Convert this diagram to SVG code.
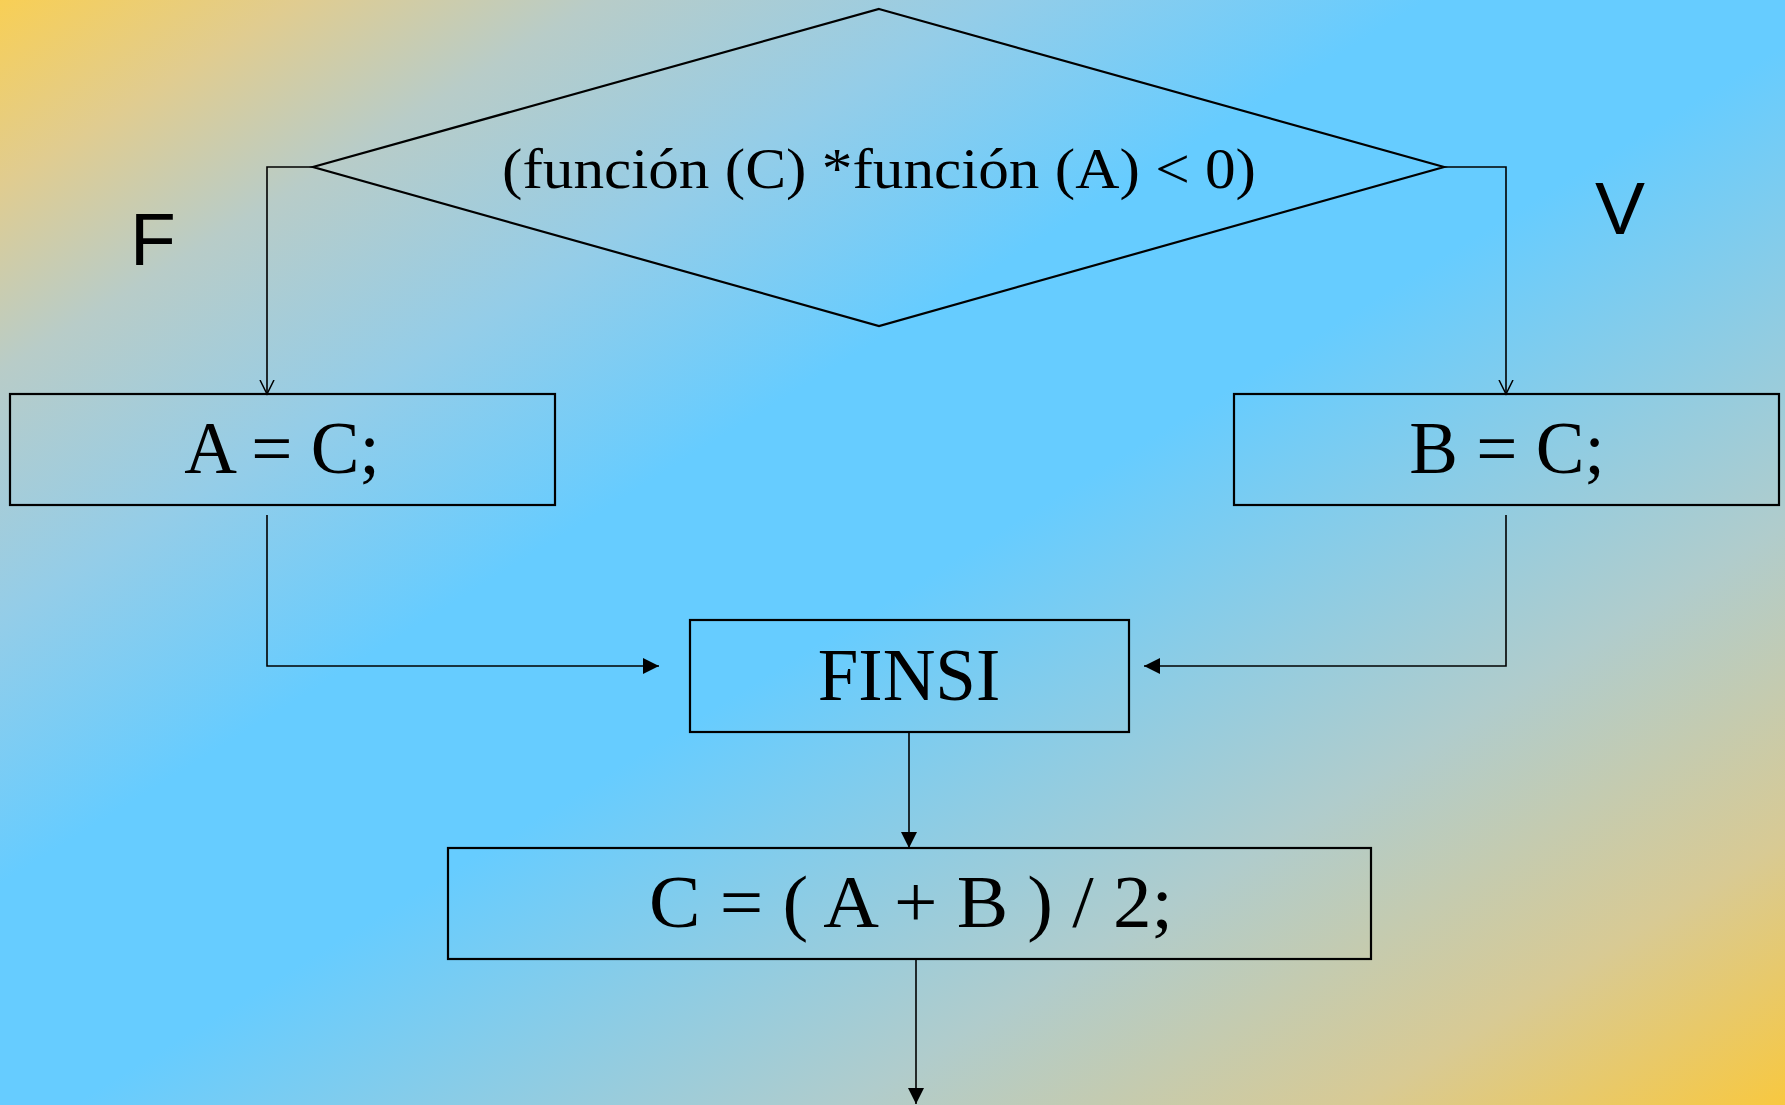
<svg xmlns="http://www.w3.org/2000/svg" width="1785" height="1105" viewBox="0 0 1785 1105">
<defs>
<linearGradient id="bg" x1="0" y1="0" x2="1" y2="1">
<stop offset="0" stop-color="#F8CF55"/>
<stop offset="0.084" stop-color="#E0CC90"/>
<stop offset="0.168" stop-color="#B8CCC8"/>
<stop offset="0.28" stop-color="#94CDE8"/>
<stop offset="0.40" stop-color="#66CCFF"/>
<stop offset="0.52" stop-color="#66CCFF"/>
<stop offset="0.737" stop-color="#B0CCCC"/>
<stop offset="0.88" stop-color="#D8CA94"/>
<stop offset="1" stop-color="#F8C840"/>
</linearGradient>
<marker id="open" markerUnits="userSpaceOnUse" markerWidth="16" markerHeight="20" refX="14" refY="7" orient="auto" viewBox="0 0 16 14">
<path d="M0,0 L14,7 L0,14" fill="none" stroke="#000" stroke-width="1.5"/>
</marker>
<marker id="fill" markerUnits="userSpaceOnUse" markerWidth="16" markerHeight="16" refX="16" refY="8" orient="auto" viewBox="0 0 16 16">
<path d="M0,0 L16,8 L0,16 Z" fill="#000"/>
</marker>
</defs>
<style>
.box{fill:none;stroke:#000;stroke-width:2.2}
.con{fill:none;stroke:#000;stroke-width:1.6}
.t{font-family:"Liberation Serif","Times New Roman",serif;fill:#000;text-anchor:middle}
.s{font-family:"Liberation Sans",Arial,sans-serif;fill:#000;text-anchor:middle}
</style>
<rect x="0" y="0" width="1785" height="1105" fill="url(#bg)"/>
<g id="decision">
<polygon class="box" points="879,9 1444,167 879,326 313,167" stroke-width="2"/>
<text class="t" x="879" y="188" font-size="56" textLength="754" lengthAdjust="spacingAndGlyphs">(función (C) *función (A) &lt; 0)</text>
</g>
<g id="labelF"><text class="s" x="153" y="265" font-size="75">F</text></g>
<g id="labelV"><text class="s" x="1620" y="234" font-size="75">V</text></g>
<g id="assignA">
<rect class="box" x="10" y="394" width="545" height="111"/>
<text class="t" x="282" y="473" font-size="73">A = C;</text>
</g>
<g id="assignB">
<rect class="box" x="1234" y="394" width="545" height="111"/>
<text class="t" x="1507" y="473" font-size="73">B = C;</text>
</g>
<g id="finsi">
<rect class="box" x="690" y="620" width="439" height="112"/>
<text class="t" x="909" y="700" font-size="73">FINSI</text>
</g>
<g id="assignC">
<rect class="box" x="448" y="848" width="923" height="111"/>
<text class="t" x="911" y="927" font-size="73" textLength="524" lengthAdjust="spacingAndGlyphs">C = ( A + B ) / 2;</text>
</g>
<g id="connectors">
<polyline class="con" points="313,167 267,167 267,394" marker-end="url(#open)"/>
<polyline class="con" points="1444,167 1506,167 1506,394" marker-end="url(#open)"/>
<polyline class="con" points="267,515 267,666 659,666" marker-end="url(#fill)"/>
<polyline class="con" points="1506,515 1506,666 1144,666" marker-end="url(#fill)"/>
<line class="con" x1="909" y1="732" x2="909" y2="848" marker-end="url(#fill)"/>
<line class="con" x1="916" y1="959" x2="916" y2="1104" marker-end="url(#fill)"/>
</g>
</svg>
